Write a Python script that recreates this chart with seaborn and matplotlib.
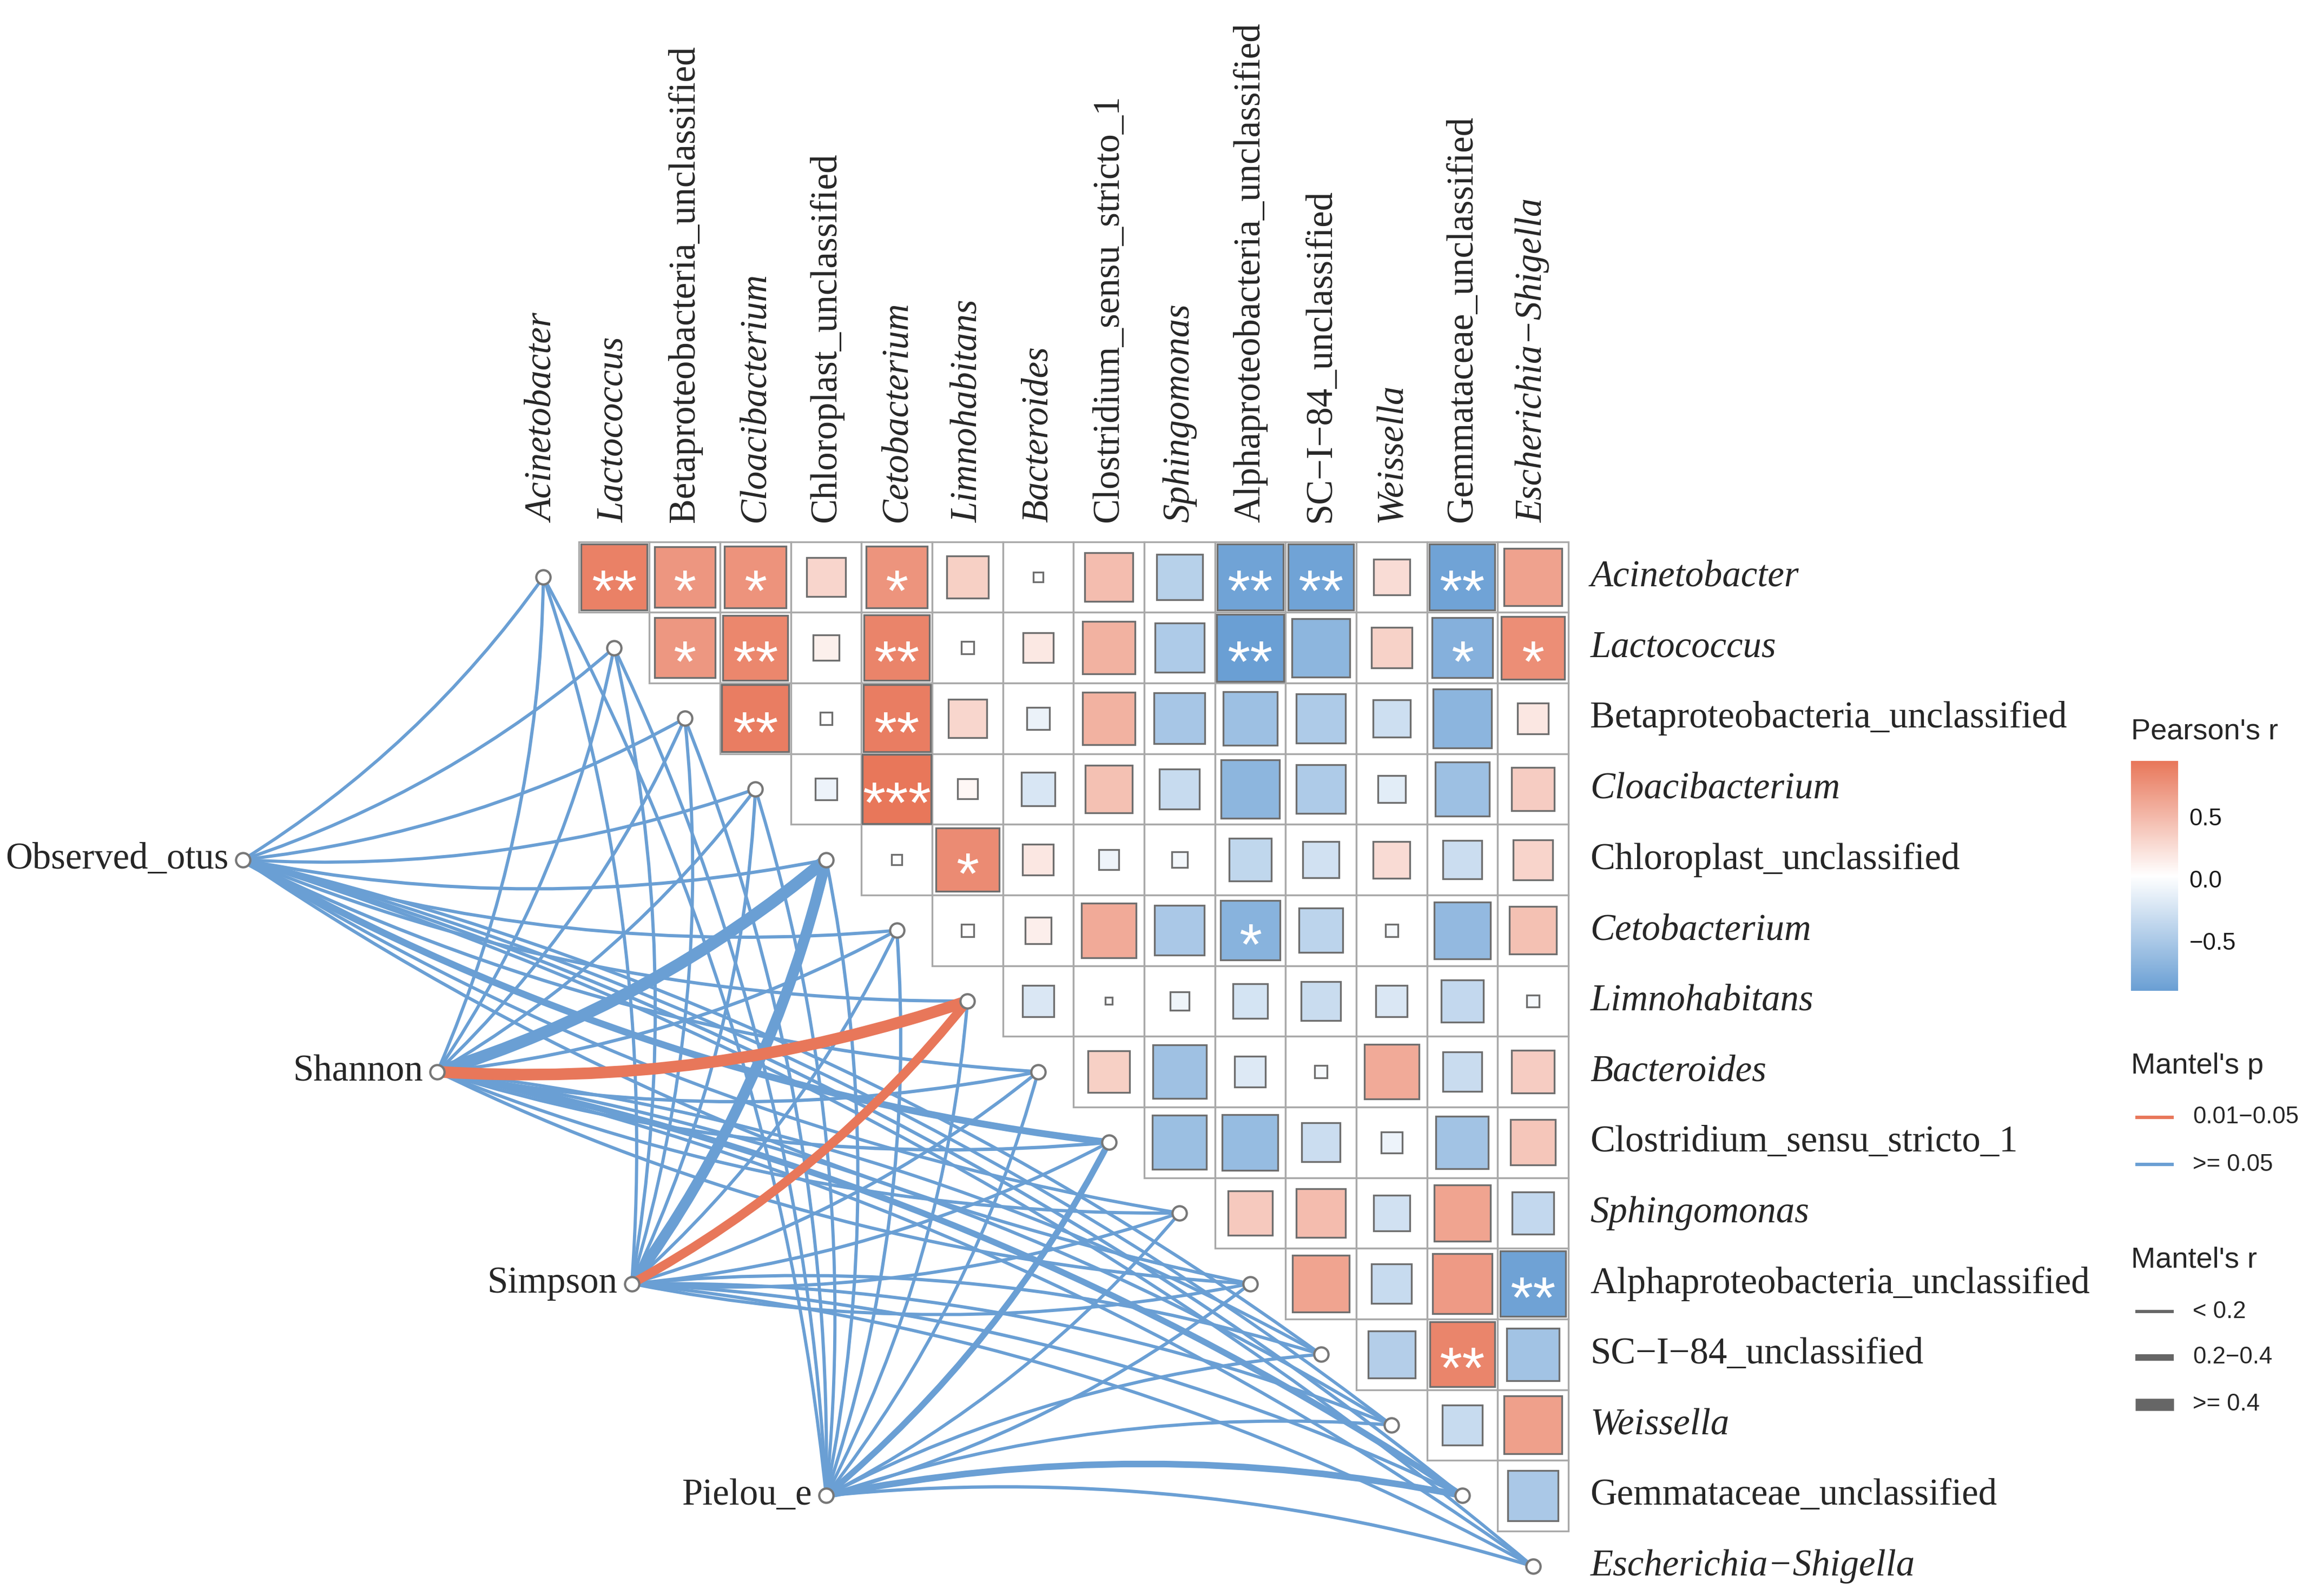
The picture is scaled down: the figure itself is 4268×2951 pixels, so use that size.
import numpy as np
import pandas as pd
import matplotlib
matplotlib.use("Agg")
import matplotlib.pyplot as plt
import seaborn as sns
from matplotlib.patches import Rectangle, PathPatch
from matplotlib.path import Path
from matplotlib.colors import Normalize
import matplotlib.cm as cm

# taxa (order of the matrix rows / columns)
taxa = ["Acinetobacter", "Lactococcus", "Betaproteobacteria_unclassified", "Cloacibacterium",
        "Chloroplast_unclassified", "Cetobacterium", "Limnohabitans", "Bacteroides",
        "Clostridium_sensu_stricto_1", "Sphingomonas", "Alphaproteobacteria_unclassified",
        "SC\u2212I\u221284_unclassified", "Weissella", "Gemmataceae_unclassified",
        "Escherichia\u2212Shigella"]
italic = [True, True, False, True, False, True, True, True, False, True, False, False, True, False, True]

# Pearson's r, upper triangle, row by row (columns to the right of the diagonal)
r_acinetobacter = [0.88, 0.74, 0.76, 0.31, 0.75, 0.35, 0.02, 0.47, -0.42, -0.86, -0.86, 0.26, -0.86, 0.66]
r_lactococcus = [0.73, 0.84, 0.13, 0.86, 0.03, 0.18, 0.55, -0.48, -0.90, -0.68, 0.33, -0.73, 0.79]
r_betaproteo = [0.90, 0.03, 0.90, 0.30, -0.10, 0.55, -0.52, -0.58, -0.48, -0.28, -0.69, 0.19]
r_cloacibacterium = [-0.09, 0.95, 0.08, -0.22, 0.45, -0.32, -0.68, -0.48, -0.15, -0.58, 0.37]
r_chloroplast = [0.02, 0.81, 0.19, -0.08, -0.05, -0.36, -0.26, 0.27, -0.30, 0.32]
r_cetobacterium = [0.03, 0.14, 0.60, -0.50, -0.71, -0.39, -0.03, -0.64, 0.45]
r_limnohabitans = [-0.20, 0.01, -0.07, -0.24, -0.31, -0.20, -0.35, -0.03]
r_bacteroides = [0.35, -0.57, -0.19, -0.03, 0.60, -0.31, 0.37]
r_clostridium = [-0.59, -0.62, -0.30, -0.09, -0.55, 0.41]
r_sphingomonas = [0.39, 0.48, -0.26, 0.64, -0.35]
r_alphaproteo = [0.64, -0.32, 0.71, -0.87]
r_sc_i_84 = [-0.44, 0.85, -0.55]
r_weissella = [-0.32, 0.67]
r_gemmataceae = [-0.50]

# significance marks: (row, column, label)
stars = [(0, 1, "**"), (0, 2, "*"), (0, 3, "*"), (0, 5, "*"), (0, 10, "**"), (0, 11, "**"), (0, 13, "**"),
         (1, 2, "*"), (1, 3, "**"), (1, 5, "**"), (1, 10, "**"), (1, 13, "*"), (1, 14, "*"),
         (2, 3, "**"), (2, 5, "**"), (3, 5, "***"), (4, 6, "*"), (5, 10, "*"),
         (10, 14, "**"), (11, 13, "**")]

# Mantel test (environment -> taxa)
env_names = ["Observed_otus", "Shannon", "Simpson", "Pielou_e"]
mantel_r_observed = [0.08, 0.09, 0.10, 0.09, 0.12, 0.10, 0.11, 0.13, 0.26, 0.09, 0.11, 0.10, 0.08, 0.14, 0.09]
mantel_r_shannon = [0.10, 0.09, 0.11, 0.10, 0.46, 0.12, 0.43, 0.13, 0.15, 0.10, 0.11, 0.09, 0.12, 0.24, 0.10]
mantel_r_simpson = [0.09, 0.10, 0.08, 0.11, 0.40, 0.10, 0.34, 0.12, 0.11, 0.10, 0.09, 0.11, 0.10, 0.12, 0.09]
mantel_r_pielou = [0.08, 0.09, 0.10, 0.08, 0.11, 0.12, 0.09, 0.10, 0.24, 0.10, 0.12, 0.11, 0.10, 0.25, 0.13]
mantel_p_observed = [0.45, 0.38, 0.52, 0.41, 0.22, 0.36, 0.29, 0.33, 0.12, 0.47, 0.39, 0.44, 0.51, 0.18, 0.42]
mantel_p_shannon = [0.41, 0.47, 0.35, 0.44, 0.07, 0.31, 0.03, 0.26, 0.21, 0.48, 0.37, 0.55, 0.33, 0.11, 0.46]
mantel_p_simpson = [0.49, 0.36, 0.58, 0.40, 0.09, 0.34, 0.04, 0.28, 0.30, 0.43, 0.52, 0.39, 0.45, 0.27, 0.50]
mantel_p_pielou = [0.53, 0.44, 0.39, 0.57, 0.31, 0.22, 0.35, 0.41, 0.13, 0.38, 0.29, 0.46, 0.37, 0.14, 0.24]

BLUE = "#6A9FD4"
RED = "#E8775A"

sns.set_theme(style="white")
plt.rcParams["font.family"] = ["Liberation Serif", "DejaVu Serif"]

pearson_rows = [r_acinetobacter, r_lactococcus, r_betaproteo, r_cloacibacterium, r_chloroplast,
                r_cetobacterium, r_limnohabitans, r_bacteroides, r_clostridium, r_sphingomonas,
                r_alphaproteo, r_sc_i_84, r_weissella, r_gemmataceae]
recs = []
for i, row in enumerate(pearson_rows):
    for k, v in enumerate(row):
        recs.append({"row": i, "col": i + 1 + k, "r": v})
corr = pd.DataFrame(recs)

mantel = pd.DataFrame({
    "env": np.repeat(env_names, len(taxa)),
    "target": list(range(len(taxa))) * len(env_names),
    "r": mantel_r_observed + mantel_r_shannon + mantel_r_simpson + mantel_r_pielou,
    "p": mantel_p_observed + mantel_p_shannon + mantel_p_simpson + mantel_p_pielou,
})

cmap = sns.blend_palette([BLUE, "white", RED], as_cmap=True)
norm = Normalize(vmin=corr["r"].min(), vmax=corr["r"].max())

# figure: 1 data unit = one matrix cell
W, H = 4268, 2951
unit = 48 * W / 1568
x0 = -369 / 48
y1 = 392 / 48
fig = plt.figure(figsize=(W / 300, H / 300), dpi=300)
ax = fig.add_axes([0, 0, 1, 1])

# matrix cells and squares
for _, c in corr.iterrows():
    j, i = c["col"], c["row"]
    ax.add_patch(Rectangle((j - 0.5, -i - 0.5), 1, 1, fc="white", ec="#A9A9A9", lw=0.8, zorder=1))
    side = np.sqrt(abs(c["r"]))
    ax.add_patch(Rectangle((j - side / 2, -i - side / 2), side, side, fc=cmap(norm(c["r"])),
                           ec="#6E6E6E", lw=0.8, zorder=2))
for i, j, lab in stars:
    ax.text(j, -i - 0.47, lab, color="white", fontsize=26, ha="center", va="baseline",
            family=["Liberation Sans", "DejaVu Sans"], zorder=3)

# labels
for k, name in enumerate(taxa):
    st = "italic" if italic[k] else "normal"
    ax.text(14.81, -k, name, fontsize=16.5, style=st, ha="left", va="center")
    ax.text(k, 0.77, name, fontsize=16.5, style=st, rotation=90, rotation_mode="anchor",
            ha="left", va="center")

# mantel links
env_x = np.linspace(-4.25, 4.0, len(env_names))
env_y = -np.linspace(4, 13, len(env_names))
env_pos = {e: (env_x[k], env_y[k]) for k, e in enumerate(env_names)}


def link(xa, ya, xb, yb, c):
    dx, dy = xb - xa, yb - ya
    cx, cy = (xa + xb) / 2 + c * dy, (ya + yb) / 2 - c * dx
    return Path([(xa, ya), (cx, cy), (xb, yb)], [Path.MOVETO, Path.CURVE3, Path.CURVE3])


mantel["sig"] = mantel["p"] < 0.05
for _, m in mantel.sort_values(["sig", "r"]).iterrows():
    xa, ya = env_pos[m["env"]]
    t = m["target"]
    curv = 0.1 if t <= 10 else -0.1
    lw = np.interp(m["r"], [0.0, 0.15, 0.25, 0.45], [1.3, 1.5, 2.9, 5.4])
    col = RED if m["sig"] else BLUE
    ax.add_patch(PathPatch(link(xa, ya, t, -t, curv), fill=False, ec=col, lw=lw,
                           capstyle="butt", zorder=3))

nodes = pd.DataFrame({"x": list(range(len(taxa))) + list(env_x),
                      "y": [-k for k in range(len(taxa))] + list(env_y)})
sns.scatterplot(data=nodes, x="x", y="y", s=40, color="white", edgecolor="#777777",
                linewidth=1.0, ax=ax, zorder=5, legend=False)
ax.set_xlim(x0, x0 + W / unit)
ax.set_ylim(y1 - H / unit, y1)
ax.axis("off")
for k, e in enumerate(env_names):
    ax.text(env_x[k] - 0.2, env_y[k], e, fontsize=16.5, ha="right", va="center")

# legends
sans = ["Liberation Sans", "DejaVu Sans"]
lx = (1447 - 369) / 48
ax.text(lx, -(497 - 392) / 48, "Pearson's r", fontsize=13, family=sans, ha="left", va="center")
cax = fig.add_axes([1447 / 1568, 1 - 673 / 1084.2, 32 / 1568, 156 / 1084.2])
cb = fig.colorbar(cm.ScalarMappable(norm=norm, cmap=cmap), cax=cax)
cb.outline.set_visible(False)
cb.set_ticks([0.5, 0.0, -0.5])
cb.set_ticklabels(["0.5", "0.0", "\u22120.5"])
cax.tick_params(axis="y", direction="in", color="white", length=4, width=0.8,
                left=True, right=True, labelleft=False, labelright=True, labelsize=10.5, pad=5)
for tl in cax.get_yticklabels():
    tl.set_family(sans)
    tl.set_color("#1a1a1a")

ax.text(lx, -(724 - 392) / 48, "Mantel's p", fontsize=13, family=sans, ha="left", va="center")
for yy, col, lab in [(759, RED, "0.01\u22120.05"), (791, BLUE, ">= 0.05")]:
    ax.plot([(1450 - 369) / 48, (1476 - 369) / 48], [-(yy - 392) / 48] * 2, color=col, lw=1.5,
            solid_capstyle="butt")
    ax.text((1489 - 369) / 48, -(yy - 392) / 48, lab, fontsize=10.5, family=sans, ha="left", va="center")

ax.text(lx, -(856 - 392) / 48, "Mantel's r", fontsize=13, family=sans, ha="left", va="center")
for yy, w, lab in [(891, 1.4, "< 0.2"), (922, 2.9, "0.2\u22120.4"), (954, 5.4, ">= 0.4")]:
    ax.plot([(1450 - 369) / 48, (1476 - 369) / 48], [-(yy - 392) / 48] * 2, color="#666666", lw=w,
            solid_capstyle="butt")
    ax.text((1489 - 369) / 48, -(yy - 392) / 48, lab, fontsize=10.5, family=sans, ha="left", va="center")

fig.savefig("out.png", dpi=300)
